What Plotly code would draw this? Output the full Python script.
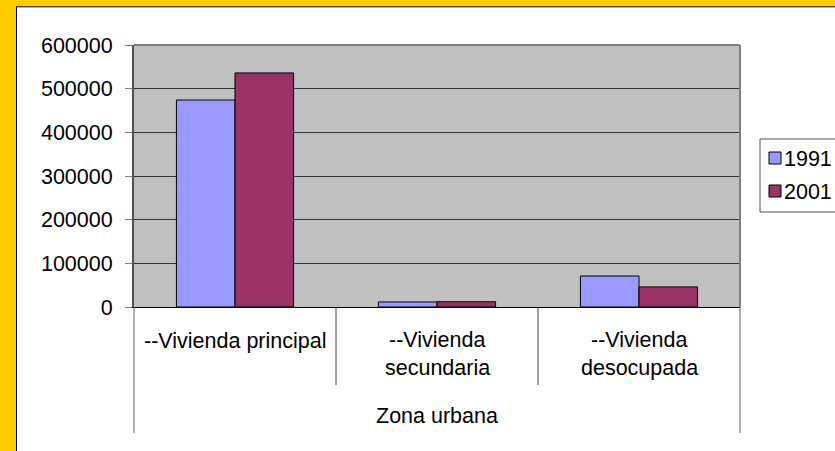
import plotly.graph_objects as go

# ---- data ----
categories = ["--Vivienda principal", "--Vivienda secundaria", "--Vivienda desocupada"]
category_label_lines = [["--Vivienda principal"], ["--Vivienda", "secundaria"], ["--Vivienda", "desocupada"]]
group_label = "Zona urbana"
series_names = ["1991", "2001"]
values_1991 = [474000, 11500, 71000]
values_2001 = [536000, 12000, 46000]
series_colors = ["#9999FF", "#993366"]
y_tick_values = [0, 100000, 200000, 300000, 400000, 500000, 600000]
y_tick_labels = ["0", "100000", "200000", "300000", "400000", "500000", "600000"]

# ---- geometry (pixels) ----
W, H = 835, 451
L, R, T, B = 134, 95, 45, 144
PW, PH = W - L - R, H - T - B


def px(xp):
    return (xp - L) / PW


def py(yp):
    return (H - B - yp) / PH


FONT = "Liberation Sans, Arial, sans-serif"
FS = 21.5

fig = go.Figure()
for name, vals, col in zip(series_names, [values_1991, values_2001], series_colors):
    fig.add_trace(go.Bar(
        x=categories, y=vals, name=name,
        marker=dict(color=col, line=dict(color="black", width=1)),
        showlegend=False,
    ))

shapes = []
annotations = []

# background border (yellow frame)
shapes.append(dict(type="rect", xref="paper", yref="paper", x0=px(0), x1=px(16), y0=py(451), y1=py(0),
                   fillcolor="#FFCC00", line=dict(width=0), layer="above"))
shapes.append(dict(type="rect", xref="paper", yref="paper", x0=px(0), x1=px(835), y0=py(6.3), y1=py(0),
                   fillcolor="#FFCC00", line=dict(width=0), layer="above"))
shapes.append(dict(type="line", xref="paper", yref="paper", x0=px(16.5), x1=px(16.5), y0=py(451), y1=py(6.8),
                   line=dict(color="black", width=1), layer="above"))
shapes.append(dict(type="line", xref="paper", yref="paper", x0=px(16), x1=px(835), y0=py(6.8), y1=py(6.8),
                   line=dict(color="black", width=1), layer="above"))

# plot area top/right borders
shapes.append(dict(type="line", xref="paper", yref="paper", x0=0, x1=1, y0=1, y1=1,
                   line=dict(color="#808080", width=2)))
shapes.append(dict(type="line", xref="paper", yref="paper", x0=1, x1=1, y0=0, y1=1,
                   line=dict(color="#808080", width=2)))

# category dividers below axis
for xd in [0.5, 1.5]:
    shapes.append(dict(type="line", xref="x", yref="paper", x0=xd, x1=xd, y0=0, y1=py(385),
                       line=dict(color="#404040", width=1)))
for xd in [0, 1]:
    shapes.append(dict(type="line", xref="paper", yref="paper", x0=xd, x1=xd, y0=0, y1=py(433),
                       line=dict(color="#606060", width=1)))

# category labels
for cat, lines in zip(categories, category_label_lines):
    if len(lines) == 1:
        ys = [341]
    else:
        ys = [340, 368]
    for line_text, yy in zip(lines, ys):
        annotations.append(dict(x=categories.index(cat), xref="x", y=py(yy), yref="paper", text=line_text,
                                showarrow=False, xanchor="center", yanchor="middle",
                                font=dict(family=FONT, size=FS, color="black")))
annotations.append(dict(x=1, xref="x", y=py(416), yref="paper", text=group_label, showarrow=False,
                        xanchor="center", yanchor="middle", font=dict(family=FONT, size=FS, color="black")))

# legend (manual)
shapes.append(dict(type="rect", xref="paper", yref="paper", x0=px(760), x1=px(845), y0=py(212), y1=py(139),
                   fillcolor="white", line=dict(color="#505050", width=1)))
for i, (name, col) in enumerate(zip(series_names, series_colors)):
    cy = 158 + 33 * i
    shapes.append(dict(type="rect", xref="paper", yref="paper", x0=px(769), x1=px(781), y0=py(cy + 6), y1=py(cy - 6),
                       fillcolor=col, line=dict(color="black", width=1)))
    annotations.append(dict(x=px(782), xref="paper", y=py(cy + 1), yref="paper", text=name, showarrow=False,
                            xanchor="left", yanchor="middle", font=dict(family=FONT, size=FS, color="black")))

fig.update_layout(
    width=W, height=H,
    margin=dict(l=L, r=R, t=T, b=B, pad=0),
    paper_bgcolor="white",
    plot_bgcolor="#C0C0C0",
    barmode="group",
    bargap=0.42,
    bargroupgap=0,
    shapes=shapes,
    annotations=annotations,
    font=dict(family=FONT, size=FS, color="black"),
    xaxis=dict(type="category", showticklabels=False, ticks="", showgrid=False,
               showline=True, linecolor="black", linewidth=1, range=[-0.5, 2.5], fixedrange=True),
    yaxis=dict(range=[0, 600000], tickvals=y_tick_values, ticktext=y_tick_labels,
               showgrid=True, gridcolor="#303030", gridwidth=1,
               ticks="outside", ticklen=7, tickcolor="#808080", tickwidth=1,
               showline=True, linecolor="#505050", linewidth=2,
               zeroline=False, ticklabelstandoff=8,
               tickfont=dict(family=FONT, size=FS, color="black"), fixedrange=True),
)

fig.write_html("out.html", config={"displayModeBar": False},
               post_script="document.body.style.margin='0';document.body.style.overflow='hidden';")
